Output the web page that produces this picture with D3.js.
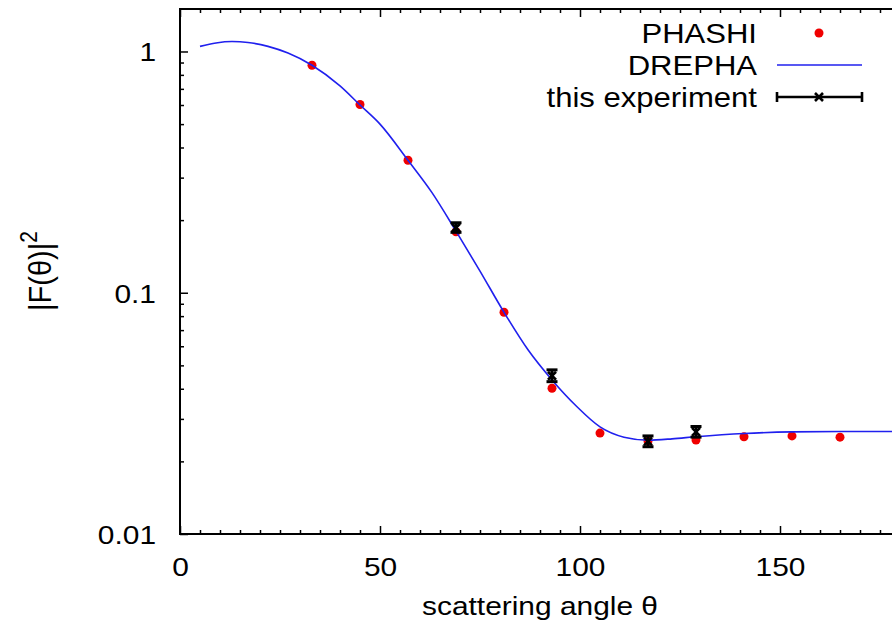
<html><head>
<script src="https://d3js.org/d3.v7.min.js"></script>
<style>
  body { margin: 0; background: #fff; }
  text { font-family: "Liberation Sans", Arial, Helvetica, sans-serif; }
</style>
</head>
<body>
<svg id="graph" width="892" height="631" style="background:#fff"></svg>
<script>
// PHASHI points (scattering angle in degrees, |F|^2)
const phashiAngle = [33, 45, 57, 69, 81, 93, 105, 117, 129, 141, 153, 165];
const phashiValue = [0.877, 0.603, 0.354, 0.179, 0.083, 0.0402, 0.0262, 0.0243, 0.0245, 0.0253, 0.0255, 0.0252];

// DREPHA curve
const drephaAngle = [5, 9, 13, 17, 22, 27, 33, 40, 45, 50, 57, 63, 69, 75, 81, 87, 93, 99, 105, 111, 117, 123, 129, 141, 153, 165, 180];
const drephaValue = [1.05, 1.085, 1.10, 1.09, 1.05, 0.985, 0.877, 0.72, 0.60, 0.50, 0.354, 0.26, 0.180, 0.123, 0.083, 0.058, 0.0435, 0.034, 0.0278, 0.0252, 0.0245, 0.0248, 0.0253, 0.0261, 0.0265, 0.0266, 0.0266];

// this experiment
const expAngle = [69, 93, 117, 129];
const expValue = [0.186, 0.0453, 0.0242, 0.0265];
const expLow   = [0.178, 0.0428, 0.0230, 0.0252];
const expHigh  = [0.195, 0.0479, 0.0255, 0.0279];

const xTicks = [0, 50, 100, 150];
const yTicks = [0.01, 0.1, 1];
const yTickLabels = ["0.01", "0.1", "1"];

const svg = d3.select("#graph");
const mLeft = 180, mRight = 900, mTop = 9, mBottom = 534;
const sx = 1.15; // glyphs in the reference are a bit wide

const x = d3.scaleLinear().domain([0, 180]).range([mLeft, mRight]);
const y = d3.scaleLog().domain([0.01, 1.5]).range([mBottom, mTop]);

const xMinor = d3.range(0, 181, 5).filter(d => d % 50 !== 0);
const yMinor = [];
[0.01, 0.1].forEach(b => { for (let k = 2; k <= 9; k++) yMinor.push(b * k); });

function addAxis(axis, tx, ty) {
  const g = svg.append("g").attr("transform", `translate(${tx},${ty})`).call(axis);
  g.select(".domain").remove();
  g.selectAll(".tick line").attr("stroke", "#000").attr("stroke-width", 1.5);
  return g;
}

// major ticks with labels
const gx = addAxis(d3.axisBottom(x).tickValues(xTicks).tickSize(-8).tickFormat(d3.format("d")), 0, mBottom);
gx.selectAll(".tick text")
  .attr("y", 42).attr("dy", null)
  .attr("font-size", 26).attr("fill", "#000")
  .attr("transform", `scale(${sx},1)`);

const gy = addAxis(d3.axisLeft(y).tickValues(yTicks).tickSize(-8).tickFormat((d, i) => yTickLabels[i]), mLeft, 0);
gy.selectAll(".tick text")
  .attr("x", -24 / sx).attr("dy", "0.36em")
  .attr("font-size", 26).attr("fill", "#000")
  .attr("transform", `scale(${sx},1)`);

// mirrored and minor ticks
addAxis(d3.axisTop(x).tickValues(xTicks).tickSize(-8).tickFormat(""), 0, mTop);
addAxis(d3.axisRight(y).tickValues(yTicks).tickSize(-8).tickFormat(""), mRight, 0);
addAxis(d3.axisBottom(x).tickValues(xMinor).tickSize(-4).tickFormat(""), 0, mBottom);
addAxis(d3.axisTop(x).tickValues(xMinor).tickSize(-4).tickFormat(""), 0, mTop);
addAxis(d3.axisLeft(y).tickValues(yMinor).tickSize(-4).tickFormat(""), mLeft, 0);
addAxis(d3.axisRight(y).tickValues(yMinor).tickSize(-4).tickFormat(""), mRight, 0);

// border
svg.append("rect")
  .attr("x", mLeft).attr("y", mTop)
  .attr("width", mRight - mLeft).attr("height", mBottom - mTop)
  .attr("fill", "none").attr("stroke", "#000").attr("stroke-width", 2);

// axis titles
svg.append("g").attr("transform", `translate(540,615) scale(${sx},1)`)
  .append("text").attr("text-anchor", "middle").attr("font-size", 26)
  .text("scattering angle θ");

const yl = svg.append("text")
  .attr("transform", "translate(51,271) rotate(-90) scale(1,1.1)")
  .attr("text-anchor", "middle").attr("font-size", 29);
yl.append("tspan").text("|F(θ)|");
yl.append("tspan").attr("font-size", 21).attr("dy", -13).text("2");

// PHASHI
const phashi = phashiAngle.map((a, i) => ({ a, v: phashiValue[i] }));
svg.append("g").selectAll("circle").data(phashi).join("circle")
  .attr("cx", d => x(d.a)).attr("cy", d => y(d.v))
  .attr("r", 4.5).attr("fill", "#f00000");

// DREPHA
const drepha = drephaAngle.map((a, i) => ({ a, v: drephaValue[i] }));
svg.append("path").datum(drepha)
  .attr("fill", "none").attr("stroke", "#2020ee").attr("stroke-width", 1.6)
  .attr("d", d3.line().x(d => x(d.a)).y(d => y(d.v)).curve(d3.curveMonotoneX));

// this experiment
const exp = expAngle.map((a, i) => ({ a, v: expValue[i], lo: expLow[i], hi: expHigh[i] }));
const eg = svg.append("g").selectAll("g").data(exp).join("g")
  .attr("stroke", "#000").attr("stroke-width", 3);
eg.append("line").attr("x1", d => x(d.a)).attr("x2", d => x(d.a))
  .attr("y1", d => y(d.lo)).attr("y2", d => y(d.hi));
eg.append("line").attr("x1", d => x(d.a) - 5.5).attr("x2", d => x(d.a) + 5.5)
  .attr("y1", d => y(d.lo)).attr("y2", d => y(d.lo));
eg.append("line").attr("x1", d => x(d.a) - 5.5).attr("x2", d => x(d.a) + 5.5)
  .attr("y1", d => y(d.hi)).attr("y2", d => y(d.hi));
eg.append("path").attr("stroke-width", 2.6)
  .attr("d", d => { const cx = x(d.a), cy = y(d.v);
    return `M${cx-4},${cy-4}L${cx+4},${cy+4}M${cx-4},${cy+4}L${cx+4},${cy-4}`; });

// legend
const legendNames = ["PHASHI", "DREPHA", "this experiment"];
const legendY = [43, 75, 107];
legendNames.forEach((name, i) => {
  svg.append("g").attr("transform", `translate(757,${legendY[i]}) scale(${sx},1)`)
    .append("text").attr("text-anchor", "end").attr("font-size", 27).text(name);
});
svg.append("circle").attr("cx", 819).attr("cy", 33).attr("r", 4.5).attr("fill", "#f00000");
svg.append("line").attr("x1", 777).attr("x2", 862).attr("y1", 65).attr("y2", 65)
  .attr("stroke", "#2020ee").attr("stroke-width", 1.6);
const lg = svg.append("g").attr("stroke", "#000").attr("stroke-width", 2.6);
lg.append("line").attr("x1", 777).attr("x2", 862).attr("y1", 97).attr("y2", 97);
lg.append("line").attr("x1", 777).attr("x2", 777).attr("y1", 92).attr("y2", 102);
lg.append("line").attr("x1", 862).attr("x2", 862).attr("y1", 92).attr("y2", 102);
lg.append("path").attr("d", "M815,93L823,101M815,101L823,93");
</script>
</body>
</html>
